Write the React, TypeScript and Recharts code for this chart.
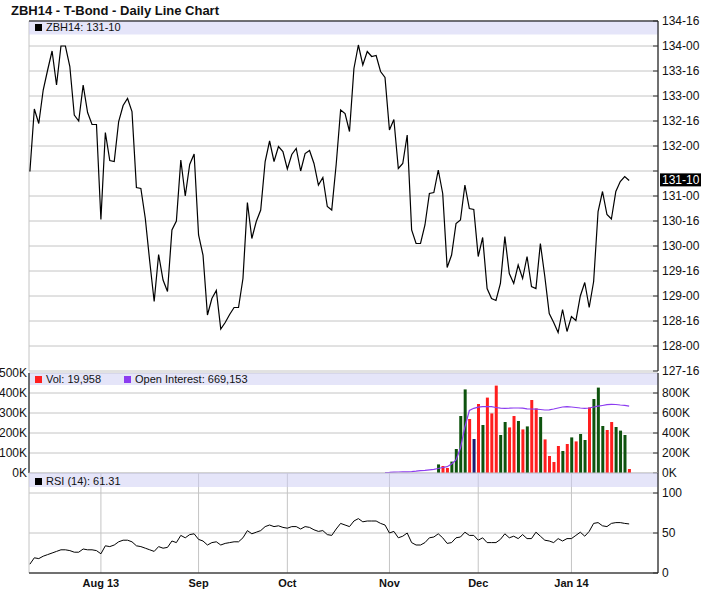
import React from 'react';
import {
  ComposedChart,
  Line,
  Bar,
  Cell,
  XAxis,
  YAxis,
  CartesianGrid,
  ReferenceArea,
  ReferenceLine,
} from 'recharts';

// ---------------- DATA ----------------
const chartTitle = 'ZBH14 - T-Bond - Daily Line Chart';
const priceLegend = 'ZBH14: 131-10';
const volLegend = 'Vol: 19,958';
const oiLegend = 'Open Interest: 669,153';
const rsiLegend = 'RSI (14): 61.31';

const currentPrice = 131.3125;

// daily closes (trading-day index 0..135)
const priceValues = [
  131.49, 132.74, 132.45, 133.12, 133.52, 133.9, 133.22, 134.0, 134.0, 133.59,
  132.62, 132.5, 133.22, 132.67, 132.43, 132.43, 130.53, 132.27, 131.71, 131.69,
  132.49, 132.81, 132.95, 132.69, 131.17, 131.15, 130.55, 129.69, 128.89, 129.83,
  129.32, 129.09, 130.32, 130.5, 131.72, 131.0, 131.63, 131.84, 130.22, 129.82,
  128.62, 128.95, 129.11, 128.34, 128.47, 128.63, 128.77, 128.77, 129.35, 130.87,
  130.15, 130.49, 130.72, 131.69, 132.1, 131.69, 131.99, 131.89, 131.54, 131.83,
  131.95, 131.5, 131.85, 131.91, 131.65, 131.22, 131.37, 130.79, 130.72, 131.63,
  132.72, 132.65, 132.29, 133.55, 134.02, 133.62, 133.89, 133.79, 133.81, 133.49,
  133.37, 132.32, 132.53, 131.55, 131.65, 132.22, 130.32, 130.05, 130.05, 130.42,
  131.05, 131.07, 131.52, 131.05, 129.57, 129.82, 130.45, 130.52, 131.22, 130.75,
  130.73, 129.79, 130.17, 129.15, 128.95, 128.91, 129.25, 130.19, 129.45, 129.25,
  129.62, 129.35, 129.79, 129.19, 129.15, 130.05, 129.39, 128.65, 128.47, 128.27,
  128.73, 128.29, 128.59, 128.51, 129.0, 129.27, 128.77, 129.29, 130.69, 131.09,
  130.63, 130.54, 131.09, 131.29, 131.39, 131.31,
];

// volume (thousands), starting at trading-day index 92
const volumeStartIndex = 92;
const volumeValues = [
  43, 35, 25, 57, 120, 285, 418, 270, 170, 345,
  240, 377, 298, 437, 190, 255, 228, 285, 260, 218,
  233, 365, 323, 280, 168, 85, 55, 135, 110, 145,
  178, 158, 195, 165, 328, 370, 427, 235, 215, 255,
  230, 212, 190, 20,
];
// u = up day, d = down day, n = unchanged
const volumeDirection = [
  'u', 'd', 'd', 'u', 'u', 'u', 'u', 'd', 'n', 'd',
  'u', 'd', 'd', 'd', 'u', 'u', 'd', 'd', 'u', 'd',
  'u', 'd', 'd', 'u', 'd', 'd', 'd', 'd', 'u', 'd',
  'u', 'd', 'u', 'u', 'd', 'u', 'u', 'u', 'd', 'd',
  'u', 'u', 'u', 'd',
];

// open interest (thousands), starting at trading-day index 80
const oiStartIndex = 80;
const openInterestValues = [
  5, 6, 8, 10, 11, 12, 14, 18, 23, 27,
  32, 37, 45, 55, 63, 90, 130, 250, 460, 625,
  647, 658, 663, 663, 663, 655, 648, 647, 648, 650,
  650, 648, 642, 640, 638, 635, 630, 632, 640, 650,
  660, 663, 660, 655, 650, 647, 650, 660, 668, 675,
  683, 687, 685, 680, 677, 669,
];

const rsiValues = [
  11, 19, 18, 21, 23, 25, 27, 29, 29, 28,
  26, 26, 30, 29, 29, 28, 24, 34, 33, 35,
  39, 41, 41, 39, 34, 33, 31, 29, 27, 33,
  31, 32, 40, 38, 47, 44, 48, 49, 42, 40,
  35, 38, 39, 35, 37, 38, 39, 39, 44, 53,
  49, 51, 53, 58, 60, 58, 59, 57, 56, 58,
  58, 55, 58, 57, 54, 52, 53, 48, 47, 55,
  62, 60, 58, 65, 68, 64, 65, 65, 65, 62,
  60, 50, 52, 44, 46, 50, 38, 35, 35, 38,
  44, 45, 49, 44, 37, 38, 44, 45, 51, 47,
  47, 41, 44, 38, 38, 38, 42, 49, 44, 46,
  43, 48, 43, 43, 51, 46, 41, 40, 38, 43,
  40, 43, 43, 47, 51, 46, 52, 62, 63, 59,
  58, 62, 63, 63, 62, 61.31,
];

const monthTickIndex = [16, 38, 58, 81, 101, 122];
const monthTickLabels = ['Aug 13', 'Sep', 'Oct', 'Nov', 'Dec', 'Jan 14'];
const xDomain = [-0.2, 141.5];

const priceTicks = [127.5, 128, 128.5, 129, 129.5, 130, 130.5, 131, 131.5, 132, 132.5, 133, 133.5, 134, 134.5];
const priceDomain = [127.5, 134.5];
const volumeTicks = [0, 100, 200, 300, 400, 500];
const oiTicks = [0, 200, 400, 600, 800];
const rsiTicks = [0, 50, 100];

// ---------------- TABLE ----------------
const rows = priceValues.map((p, i) => ({
  i,
  price: p,
  rsi: rsiValues[i],
  vol: i >= volumeStartIndex ? volumeValues[i - volumeStartIndex] : null,
  dir: i >= volumeStartIndex ? volumeDirection[i - volumeStartIndex] : null,
  oi: i >= oiStartIndex ? openInterestValues[i - oiStartIndex] : null,
}));
const volRows = rows.slice(oiStartIndex);

// ---------------- STYLE ----------------
const FONT = '"Liberation Sans", Arial, Helvetica, sans-serif';
const GRID = '#C4C4C4';
const BAND = '#CBCBF4';
const UP = '#0E530E';
const DOWN = '#FF1E1E';
const FLAT = '#1C1C70';
const OI = '#8C3CF0';

const fmtPrice = (v: number) => {
  const whole = Math.floor(v + 1e-9);
  const n = Math.round((v - whole) * 32);
  return `${whole}-${String(n).padStart(2, '0')}`;
};

function RightTick(props: any) {
  const { x, y, payload, fmt } = props;
  const label = fmt(payload.value);
  return (
    <g>
      <line x1={x - 5} x2={x} y1={y} y2={y} stroke="#333" strokeWidth={1} />
      {label ? (
        <text x={x + 4} y={y + 4} fontSize={12} fontFamily={FONT} fill="#111">
          {label}
        </text>
      ) : null}
    </g>
  );
}

function LeftTick(props: any) {
  const { x, y, payload } = props;
  return (
    <text x={x} y={y + 4} textAnchor="end" fontSize={12} fontFamily={FONT} fill="#111">
      {`${payload.value}K`}
    </text>
  );
}

function MonthTick(props: any) {
  const { x, y, payload } = props;
  const k = monthTickIndex.indexOf(payload.value);
  return (
    <text x={x} y={y + 14} textAnchor="middle" fontSize={11} fontWeight="bold" fontFamily={FONT} fill="#111">
      {k >= 0 ? monthTickLabels[k] : ''}
    </text>
  );
}

function CurrentPriceLabel(props: any) {
  const vb = props.viewBox || {};
  const x = (vb.x || 0) + (vb.width || 0);
  const y = vb.y || 0;
  return (
    <g>
      <rect x={x + 2} y={y - 7} width={41} height={13} fill="#000" />
      <text x={x + 4} y={y + 4} fontSize={12} fontFamily={FONT} fill="#fff">
        {fmtPrice(currentPrice)}
      </text>
    </g>
  );
}

const abs = (o: any) => ({ position: 'absolute' as const, left: 0, top: 0, ...o });

function LegendItem({ left, top, color, text }: { left: number; top: number; color: string; text: string }) {
  return (
    <>
      <div style={abs({ left, top: top + 3, width: 7, height: 7, background: color, border: '0px' })} />
      <div style={abs({ left: left + 11, top, fontSize: 11, lineHeight: '13px', fontFamily: FONT, color: '#111', whiteSpace: 'nowrap' })}>
        {text}
      </div>
    </>
  );
}

export default function App() {
  return (
    <div style={abs({ width: 701, height: 614, background: '#fff', overflow: 'hidden', fontFamily: FONT })}>
      {/* PRICE PANEL */}
      <div style={abs({})}>
        <ComposedChart width={701} height={614} data={rows} margin={{ top: 21, right: 0, bottom: 243, left: 29 }}>
          <CartesianGrid yAxisId="p" stroke={GRID} strokeWidth={1} />
          <XAxis
            dataKey="i"
            type="number"
            domain={xDomain}
            allowDataOverflow
            ticks={monthTickIndex}
            height={0}
            tick={false}
            tickLine={false}
            axisLine={{ stroke: '#000', strokeWidth: 3 }}
          />
          <YAxis yAxisId="l" orientation="left" width={0} domain={priceDomain} tick={false} tickLine={false} axisLine={{ stroke: '#000' }} />
          <YAxis
            yAxisId="p"
            orientation="right"
            width={43}
            domain={priceDomain}
            ticks={priceTicks}
            interval={0}
            tickSize={0}
            tickMargin={0}
            tickLine={false}
            axisLine={{ stroke: '#000' }}
            tick={(p: any) => (
              <RightTick {...p} fmt={(v: number) => (Math.abs(v - currentPrice) < 0.3 ? '' : fmtPrice(v))} />
            )}
          />
          <ReferenceArea yAxisId="p" y1={134.23} y2={134.5} fill={BAND} fillOpacity={0.5} stroke="none" />
          <ReferenceLine yAxisId="p" y={134.5} stroke="#000" />
          <Line yAxisId="p" dataKey="price" type="linear" stroke="#000" strokeWidth={1.2} dot={false} isAnimationActive={false} />
          <ReferenceLine yAxisId="p" y={currentPrice} stroke="none" label={(p: any) => <CurrentPriceLabel {...p} />} />
        </ComposedChart>
      </div>

      {/* VOLUME PANEL */}
      <div style={abs({})}>
        <ComposedChart width={701} height={614} data={volRows} margin={{ top: 373, right: 0, bottom: 141, left: 0 }}>
          <CartesianGrid yAxisId="v" stroke={GRID} strokeWidth={1} />
          <XAxis
            dataKey="i"
            type="number"
            domain={xDomain}
            allowDataOverflow
            ticks={monthTickIndex}
            height={0}
            tick={false}
            tickLine={false}
            axisLine={{ stroke: '#000', strokeWidth: 3 }}
          />
          <YAxis
            yAxisId="v"
            orientation="left"
            width={29}
            domain={[0, 500]}
            ticks={volumeTicks}
            interval={0}
            tickSize={0}
            tickMargin={2}
            tickLine={false}
            axisLine={{ stroke: '#000' }}
            tick={(p: any) => <LeftTick {...p} />}
          />
          <YAxis
            yAxisId="oi"
            orientation="right"
            width={43}
            domain={[0, 1000]}
            ticks={oiTicks}
            interval={0}
            tickSize={0}
            tickMargin={0}
            tickLine={false}
            axisLine={{ stroke: '#000' }}
            tick={(p: any) => <RightTick {...p} fmt={(v: number) => `${v}K`} />}
          />
          <ReferenceArea yAxisId="v" y1={440} y2={500} fill={BAND} fillOpacity={0.5} stroke="none" />
          <Bar yAxisId="v" dataKey="vol" barSize={3} isAnimationActive={false}>
            {volRows.map((r, k) => (
              <Cell key={k} fill={r.dir === 'u' ? UP : r.dir === 'd' ? DOWN : FLAT} />
            ))}
          </Bar>
          <Line yAxisId="oi" dataKey="oi" type="linear" stroke={OI} strokeWidth={1.2} dot={false} isAnimationActive={false} />
        </ComposedChart>
      </div>

      {/* RSI PANEL */}
      <div style={abs({})}>
        <ComposedChart width={701} height={614} data={rows} margin={{ top: 473, right: 0, bottom: 0, left: 29 }}>
          <CartesianGrid yAxisId="r" stroke={GRID} strokeWidth={1} />
          <XAxis
            dataKey="i"
            type="number"
            domain={xDomain}
            allowDataOverflow
            ticks={monthTickIndex}
            interval={0}
            height={41}
            tickSize={0}
            tickMargin={0}
            tickLine={false}
            axisLine={{ stroke: '#000' }}
            tick={(p: any) => <MonthTick {...p} />}
          />
          <YAxis yAxisId="rl" orientation="left" width={0} domain={[0, 125]} tick={false} tickLine={false} axisLine={{ stroke: '#000' }} />
          <YAxis
            yAxisId="r"
            orientation="right"
            width={43}
            domain={[0, 125]}
            ticks={rsiTicks}
            interval={0}
            tickSize={0}
            tickMargin={0}
            tickLine={false}
            axisLine={{ stroke: '#000' }}
            tick={(p: any) => <RightTick {...p} fmt={(v: number) => `${v}`} />}
          />
          <ReferenceArea yAxisId="r" y1={107.5} y2={125} fill={BAND} fillOpacity={0.5} stroke="none" />
          <Line yAxisId="r" dataKey="rsi" type="linear" stroke="#000" strokeWidth={1} dot={false} isAnimationActive={false} />
        </ComposedChart>
      </div>

      {/* TITLE & LEGENDS */}
      <div style={abs({ left: 11, top: 3, fontSize: 13, lineHeight: '15px', fontWeight: 'bold', color: '#111', whiteSpace: 'nowrap' })}>
        {chartTitle}
      </div>
      <LegendItem left={35} top={21} color="#000" text={priceLegend} />
      <LegendItem left={35} top={373} color={DOWN} text={volLegend} />
      <LegendItem left={124} top={373} color={OI} text={oiLegend} />
      <LegendItem left={35} top={475} color="#000" text={rsiLegend} />
    </div>
  );
}
